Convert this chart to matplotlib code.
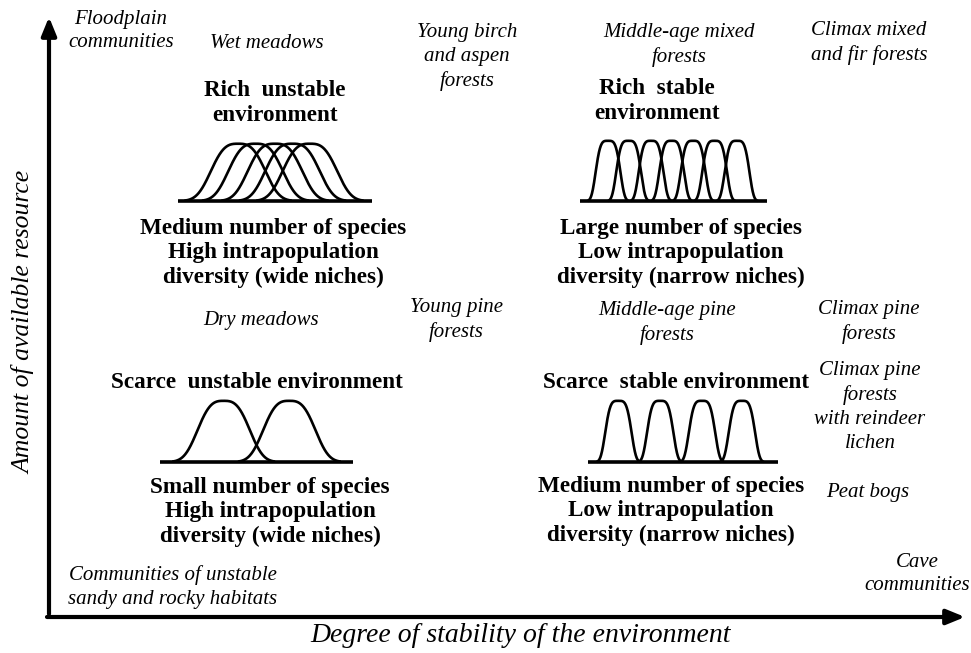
import numpy as np
import matplotlib
matplotlib.use("Agg")
import matplotlib.pyplot as plt

plt.rcParams['font.family'] = ['Liberation Serif', 'DejaVu Serif']

# niche curves of each panel: centres and base half-widths (resource units 0..10)
rich_unstable_centres = [3.1, 4.0, 5.0, 5.9, 6.8]
rich_unstable_width = 2.7
rich_stable_centres = [1.5, 2.6, 3.8, 4.9, 6.05, 7.2, 8.4]
rich_stable_width = 1.05
scarce_unstable_centres = [3.3, 6.7]
scarce_unstable_width = 2.6
scarce_stable_centres = [1.6, 3.8, 6.0, 8.1]
scarce_stable_width = 1.1

panel_titles = ["Rich  unstable\nenvironment", "Rich  stable\nenvironment",
                "Scarce  unstable environment", "Scarce  stable environment"]
panel_captions = ["Medium number of species\nHigh intrapopulation\ndiversity (wide niches)",
                  "Large number of species\nLow intrapopulation\ndiversity (narrow niches)",
                  "Small number of species\nHigh intrapopulation\ndiversity (wide niches)",
                  "Medium number of species\nLow intrapopulation\ndiversity (narrow niches)"]

communities = ["Floodplain\ncommunities", "Wet meadows", "Young birch\nand aspen\nforests",
               "Middle-age mixed\nforests", "Climax mixed\nand fir forests",
               "Dry meadows", "Young pine\nforests", "Middle-age pine\nforests",
               "Climax pine\nforests", "Climax pine\nforests\nwith reindeer\nlichen",
               "Peat bogs", "Communities of unstable\nsandy and rocky habitats",
               "Cave\ncommunities"]

x_label = "Degree of stability of the environment"
y_label = "Amount of available resource"


def niche(x, c, w, p):
    u = np.abs(x - c) / w
    s = (1 / 4.6) ** (1.0 / p)
    f = np.exp(-(u / s) ** p)
    f[u > 1] = np.nan
    return f


W, H = 971, 653
fig = plt.figure(figsize=(W / 100, H / 100), dpi=100)
ax = fig.add_axes([0, 0, 1, 1])
ax.set_xlim(0, W)
ax.set_ylim(H, 0)
ax.axis('off')

# axes arrows
ax.annotate("", xy=(49, 17), xytext=(49, 614),
            arrowprops=dict(arrowstyle="-|>,head_length=1.1,head_width=0.45",
                            lw=3, color="black", shrinkA=0, shrinkB=0))
ax.annotate("", xy=(965, 617), xytext=(47, 617),
            arrowprops=dict(arrowstyle="-|>,head_length=1.1,head_width=0.45",
                            lw=3, color="black", shrinkA=0, shrinkB=0))

ax.text(24, 322, y_label, rotation=90, style='italic', fontsize=18.5,
        ha='center', va='center')
ax.text(521, 636, x_label, style='italic', fontsize=20, ha='center', va='center')

# niche panels: (left, right, baseline, top) in pixels
boxes = [(178, 372, 201, 142), (580, 767, 201, 139),
         (160, 353, 462, 399), (588, 778, 462, 399)]
panels = [(rich_unstable_centres, rich_unstable_width, 3),
          (rich_stable_centres, rich_stable_width, 4),
          (scarce_unstable_centres, scarce_unstable_width, 3),
          (scarce_stable_centres, scarce_stable_width, 4)]

for (l, r, b, t), (centres, w, p) in zip(boxes, panels):
    iax = fig.add_axes([l / W, 1 - b / H, (r - l) / W, (b - t) / H])
    iax.set_xlim(0, 10)
    iax.set_ylim(0, 1.03)
    iax.axis('off')
    xs = np.linspace(0, 10, 800)
    for c in centres:
        iax.plot(xs, niche(xs, c, w, p), color='black', lw=1.9, clip_on=False)
    iax.plot([0, 10], [0, 0], color='black', lw=2.6, solid_capstyle='butt',
             clip_on=False)

title_pos = [(275, 103), (657, 101), (257, 383), (676, 383)]
caption_pos = [(273, 253), (681, 253), (270, 512), (671, 511)]
for (x, y), s in zip(title_pos, panel_titles):
    ax.text(x, y, s, fontsize=16.7, fontweight='bold', ha='center', va='center',
            linespacing=1.2)
for (x, y), s in zip(caption_pos, panel_captions):
    ax.text(x, y, s, fontsize=16.7, fontweight='bold', ha='center', va='center',
            linespacing=1.2)

comm_pos = [(121, 31), (267, 44), (467, 57), (679, 45), (869, 43),
            (261, 320), (456, 320), (667, 323), (869, 322), (870, 407),
            (868, 492), (173, 587), (917, 574)]
for (x, y), s in zip(comm_pos, communities):
    ax.text(x, y, s, fontsize=15, style='italic', ha='center', va='center',
            linespacing=1.33)

fig.savefig("out.png", dpi=100)
